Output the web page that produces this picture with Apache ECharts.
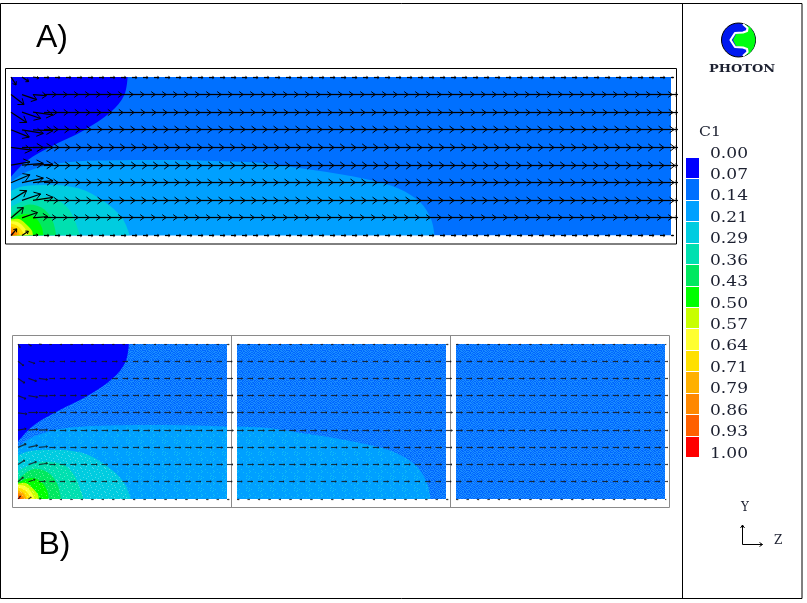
<!DOCTYPE html>
<html>
<head>
<meta charset="utf-8">
<style>html,body{margin:0;padding:0;background:#fff}#c{width:807px;height:603px}</style>
<script src="https://cdn.jsdelivr.net/npm/echarts@6/dist/echarts.min.js"></script>
</head>
<body>
<div id="c"></div>
<script>
// ---- legend ----
const tickLabels = ['0.00','0.07','0.14','0.21','0.29','0.36','0.43','0.50','0.57','0.64','0.71','0.79','0.86','0.93','1.00'];
const bandColors = ['#0000ff','#0070ff','#00a0ff','#00cce0','#00e0b0','#00e860','#00ff00','#c8ff00','#ffff30','#ffe000','#ffb000','#ff8800','#ff6000','#ff0000'];

// ---- contour boundaries of C1, as [z, y] ----
const contour007 = [[0,.37],[.072,.472],[.18,.56],[.33,.663],[.455,.78],[.515,.886],[.53,1]];
const floodC1    = [[0,1],[3,1]];
const contour014 = [[0,.338],[.073,.402],[.2,.452],[.392,.473],[.711,.477],[1,.467],[1.158,.456],[1.317,.424],[1.477,.391],[1.636,.348],[1.764,.295],[1.86,.209],[1.91,.101],[1.925,0]];
const contour021 = [[0,.28],[.055,.31],[.165,.318],[.31,.296],[.42,.217],[.505,.11],[.54,0]];
const contour029 = [[0,.18],[.057,.22],[.121,.24],[.217,.219],[.273,.144],[.313,0]];
const contour036 = [[0,.125],[.05,.18],[.085,.195],[.15,.165],[.19,.09],[.205,0]];
const contour043 = [[0,.105],[.04,.13],[.07,.135],[.115,.105],[.14,.05],[.147,0]];
const contour050 = [[0,.1],[.03,.105],[.07,.07],[.095,.03],[.1,0]];
const contour057 = [[0,.09],[.03,.085],[.06,.05],[.08,0]];
const contour064 = [[0,.075],[.03,.06],[.05,.03],[.06,0]];
const contour071 = [[0,.055],[.02,.045],[.035,.02],[.04,0]];
const contour079 = [[0,.04],[.015,.03],[.025,.012],[.028,0]];
const contour086 = [[0,.025],[.01,.018],[.017,0]];
const contour093 = [[0,.012],[.007,.008],[.009,0]];

// ---- velocity vectors ----
const rowY = [1,.889,.778,.667,.556,.444,.333,.222,.111,0];
const zColumns = [0,.05,.1,.15,.2,.25,.3,.35,.4,.45,.5,.55,.6,.65,.7,.75,.8,.85,.9,.95,1,1.05,1.1,1.15,1.2,1.25,1.3,1.35,1.4,1.45,1.5,1.55,1.6,1.65,1.7,1.75,1.8,1.85,1.9,1.95,2,2.05,2.1,2.15,2.2,2.25,2.3,2.35,2.4,2.45,2.5,2.55,2.6,2.65,2.7,2.75,2.8,2.85,2.9,2.95,3];
const rowLength = [.023,.055,.059,.064,.068,.068,.064,.064,.055,.023];
const outletLength = [.012,.03,.03,.03,.03,.03,.03,.03,.03,.012];
const lead0Dz = [.023,.059,.071,.083,.094,.086,.086,.071,.056,.026];
const lead0Dy = [-.05,-.063,-.065,-.046,-.017,.021,.05,.061,.065,.042];
const lead1Dz = [.03,.067,.085,.097,.097,.097,.097,.085,.07,.029];
const lead1Dy = [-.029,-.032,-.04,-.023,0,.011,.029,.04,.034,.027];
const lead2Dz = [.027,.061,.091,.091,.091,.091,.091,.091,.068,.023];
const lead2Dy = [-.006,-.006,-.017,-.006,0,.004,.013,.019,.008,.004];

// ---- assembling ----
const contours = [floodC1, contour007, contour014, contour021, contour029, contour036, contour043, contour050, contour057, contour064, contour071, contour079, contour086, contour093];
const vectors = [];
rowY.forEach((y, r) => {
  zColumns.forEach((z, c) => {
    let dz = rowLength[r], dy = 0;
    if (c === 0) { dz = lead0Dz[r]; dy = lead0Dy[r]; }
    if (c === 1) { dz = lead1Dz[r]; dy = lead1Dy[r]; }
    if (c === 2) { dz = lead2Dz[r]; dy = lead2Dy[r]; }
    if (c === zColumns.length - 1) dz = outletLength[r];
    vectors.push([z, y, dz, dy]);
  });
});

// stipple of panel B
const dense = ['010011010010','110100101101','001011010100','101001101011','010110010110','100101101001','011010010010','101101001101','010010110100','110101001011','001010110101','100101010010'];
const sparse = ['000000000100','010000000000','000001000000','000000000010','000100000000','000000100000','100000000000','000000010000','000010000000','000000000001','001000000000','000000001000'];
function tile(color, dot, bits) {
  const cv = document.createElement('canvas');
  cv.width = cv.height = 12;
  const g = cv.getContext('2d');
  g.fillStyle = color; g.fillRect(0, 0, 12, 12);
  g.fillStyle = dot;
  bits.forEach((row, y) => row.split('').forEach((b, x) => { if (b === '1') g.fillRect(x, y, 1, 1); }));
  return { image: cv, repeat: 'repeat' };
}
function lighten(hex, t) {
  const n = parseInt(hex.slice(1), 16);
  const m = v => Math.round(v + (255 - v) * t);
  return 'rgb(' + m(n >> 16 & 255) + ',' + m(n >> 8 & 255) + ',' + m(n & 255) + ')';
}
// contours[] index -> colour of the band it encloses
const contourBand = [1, 0, 2, 3, 4, 5, 6, 7, 8, 9, 10, 11, 12, 13];
function stippled(b) {
  if (b === 0) return bandColors[0];
  if (b === 1) return tile('#0068ff', '#1a8cff', dense);
  if (b === 2) return tile('#00a0ff', '#12bcf4', dense.map((r, i) => i % 2 ? sparse[i] : r.replace(/1/g, (m, k) => k % 3 ? '0' : '1')));
  return tile(bandColors[b], lighten(bandColors[b], .3), sparse);
}

const panels = [
  { grid: { left: 11, top: 77, width: 660, height: 158.5 }, min: 0, max: 3, stipple: false, scale: 1, head: 1, use: contours.length, ink: '#000', ink2: 1.25 },
  { grid: { left: 18, top: 344, width: 209, height: 155 }, min: 0, max: 1, stipple: true, scale: .45, head: .55, use: contours.length, ink: 'rgba(20,20,20,.8)', ink2: 1.15 },
  { grid: { left: 237, top: 344, width: 209, height: 155 }, min: 1, max: 2, stipple: true, scale: .45, head: .55, use: 3, ink: 'rgba(20,20,20,.8)', ink2: 1.15 },
  { grid: { left: 456, top: 344, width: 209, height: 155 }, min: 2, max: 3, stipple: true, scale: .45, head: .55, use: 1, ink: 'rgba(20,20,20,.8)', ink2: 1.15 }
];

const grids = [], xAxes = [], yAxes = [], series = [];
panels.forEach((p, i) => {
  grids.push(p.grid);
  xAxes.push({ type: 'value', gridIndex: i, min: p.min, max: p.max, show: false });
  yAxes.push({ type: 'value', gridIndex: i, min: 0, max: 1, show: false });
  contours.slice(0, p.use).forEach((data, k) => {
    const b = contourBand[k];
    series.push({
      type: 'line', xAxisIndex: i, yAxisIndex: i, data, smooth: k === 0 ? false : .35,
      symbol: 'none', silent: true, lineStyle: { width: 0 }, clip: true,
      areaStyle: { opacity: 1, origin: b === 0 ? 'end' : 'start', color: p.stipple ? stippled(b) : bandColors[b] },
      z: 2 + k * .01
    });
  });
  const vecs = vectors.filter(v => v[0] >= p.min && v[0] <= p.max);
  series.push({
    type: 'custom', xAxisIndex: i, yAxisIndex: i, coordinateSystem: 'cartesian2d', silent: true, z: 4, clip: false,
    encode: { x: 0, y: 1 }, data: vecs,
    renderItem(params, api) {
      const a = api.coord([api.value(0), api.value(1)]);
      const t = api.coord([api.value(0) + api.value(2) * p.scale, api.value(1) + api.value(3) * p.scale]);
      if (api.value(3) === 0) { a[1] = t[1] = Math.floor(a[1]) + .5; }
      const dx = t[0] - a[0], dy = t[1] - a[1], L = Math.hypot(dx, dy) || 1;
      const hl = Math.min(L * .32, 6.5) * p.head, hw = Math.min(L * .24, 4) * p.head;
      const ux = dx / L, uy = dy / L;
      const bx = t[0] - ux * hl, by = t[1] - uy * hl;
      return {
        type: 'group', children: [
          { type: 'polyline', shape: { points: [a, t] }, style: { stroke: p.ink, lineWidth: p.ink2, fill: null } },
          { type: 'polyline', shape: { points: [[bx - uy * hw, by + ux * hw], t, [bx + uy * hw, by - ux * hw]] }, style: { stroke: p.ink, lineWidth: 1, fill: null } }
        ]
      };
    }
  });
});

// legend strip
const li = panels.length;
grids.push({ left: 686, top: 158, width: 13, height: 300 });
xAxes.push({ type: 'value', gridIndex: li, min: 0, max: 1, show: false });
yAxes.push({ type: 'value', gridIndex: li, min: 0, max: 14, inverse: true, show: false });
series.push({
  type: 'custom', xAxisIndex: li, yAxisIndex: li, silent: true, clip: false, z: 4, encode: { x: 0, y: 1 },
  data: bandColors.map((c, i) => [0, i]),
  renderItem(params, api) {
    const i = api.value(1);
    const a = api.coord([0, i]), b = api.coord([1, i + 1]);
    return { type: 'rect', shape: { x: a[0], y: Math.round(a[1]), width: b[0] - a[0], height: Math.round(b[1]) - Math.round(a[1]) - 1 }, style: { fill: bandColors[i] } };
  }
});
const inkText = '#1c2030';
series.push({
  type: 'custom', xAxisIndex: li, yAxisIndex: li, silent: true, clip: false, z: 4, encode: { x: 0, y: 1 },
  data: tickLabels.map((t, i) => [0, i]),
  renderItem(params, api) {
    const i = api.value(1);
    const a = api.coord([1, i]);
    return { type: 'text', x: a[0] + 11, y: a[1] - 4, scaleX: 1.22, style: { text: tickLabels[i], font: '14px "DejaVu Serif"', fill: inkText, textVerticalAlign: 'middle', verticalAlign: 'middle' } };
  }
});

const serif = '"DejaVu Serif"';
const graphic = [
  { type: 'rect', shape: { x: .5, y: 3.5, width: 801.5, height: 595 }, style: { fill: null, stroke: '#000', lineWidth: 1 }, z: 1 },
  { type: 'line', shape: { x1: 682.5, y1: 3, x2: 682.5, y2: 599 }, style: { stroke: '#000', lineWidth: 1 }, z: 1 },
  { type: 'rect', shape: { x: 5.5, y: 68.5, width: 671, height: 175.5 }, style: { fill: null, stroke: '#000', lineWidth: 1 }, z: 1 },
  { type: 'rect', shape: { x: 12.5, y: 335.5, width: 657, height: 172 }, style: { fill: null, stroke: '#8a8a8a', lineWidth: 1 }, z: 1 },
  { type: 'line', shape: { x1: 231.5, y1: 335, x2: 231.5, y2: 507 }, style: { stroke: '#8a8a8a', lineWidth: 1 }, z: 1 },
  { type: 'line', shape: { x1: 450.5, y1: 335, x2: 450.5, y2: 507 }, style: { stroke: '#8a8a8a', lineWidth: 1 }, z: 1 },
  { type: 'text', x: 36, y: 54, style: { text: 'A)', font: '32px "Liberation Sans"', fill: '#000', textVerticalAlign: 'bottom' }, z: 6 },
  { type: 'text', x: 38.5, y: 561, style: { text: 'B)', font: '32px "Liberation Sans"', fill: '#000', textVerticalAlign: 'bottom' }, z: 6 },
  // logo
  { type: 'circle', shape: { cx: 738.5, cy: 40, r: 17 }, style: { fill: '#0018f0', stroke: '#000', lineWidth: 1 }, z: 6 },
  { type: 'polygon', shape: { points: [[744,24],[750,27],[754,33],[755.5,40],[754,47],[750,53],[744,56],[748,52],[747,49],[743,47.5],[736,46],[733,40],[736,34],[743,32.5],[747,31],[748,28]] }, style: { fill: '#00ff10', stroke: null }, z: 6 },
  { type: 'polyline', shape: { points: [[743,24],[747.5,28],[747,31],[743,32.5],[735,33],[730.5,40],[735,47],[743,47.5],[747,49],[747.5,52],[743,56]] }, style: { fill: null, stroke: '#fff', lineWidth: 2.2, lineJoin: 'round' }, z: 7 },
  { type: 'text', x: 709, y: 69.5, scaleX: 1.18, style: { text: 'PHOTON', font: 'bold 11px ' + serif, fill: inkText, textVerticalAlign: 'middle', verticalAlign: 'middle' }, z: 6 },
  { type: 'text', x: 699, y: 133, scaleX: 1.2, style: { text: 'C1', font: '13px ' + serif, fill: inkText, textVerticalAlign: 'middle', verticalAlign: 'middle' }, z: 6 },
  // axes triad
  { type: 'text', x: 741, y: 508, style: { text: 'Y', font: '12px ' + serif, fill: inkText, textVerticalAlign: 'middle', verticalAlign: 'middle' }, z: 6 },
  { type: 'text', x: 774, y: 541, style: { text: 'Z', font: '12px ' + serif, fill: inkText, textVerticalAlign: 'middle', verticalAlign: 'middle' }, z: 6 },
  { type: 'polyline', shape: { points: [[742.5, 525], [742.5, 544.5], [762.5, 544.5]] }, style: { stroke: '#000', lineWidth: 1, fill: null }, z: 6 },
  { type: 'polyline', shape: { points: [[740.5, 528], [742.5, 525], [744.5, 528]] }, style: { stroke: '#000', lineWidth: 1, fill: null }, z: 6 },
  { type: 'polyline', shape: { points: [[759.5, 542.5], [762.5, 544.5], [759.5, 546.5]] }, style: { stroke: '#000', lineWidth: 1, fill: null }, z: 6 }
];

const chart = echarts.init(document.getElementById('c'), null, { renderer: 'canvas', width: 807, height: 603 });
chart.setOption({
  animation: false, backgroundColor: '#fff',
  grid: grids, xAxis: xAxes, yAxis: yAxes, series, graphic
});
</script>
</body>
</html>
